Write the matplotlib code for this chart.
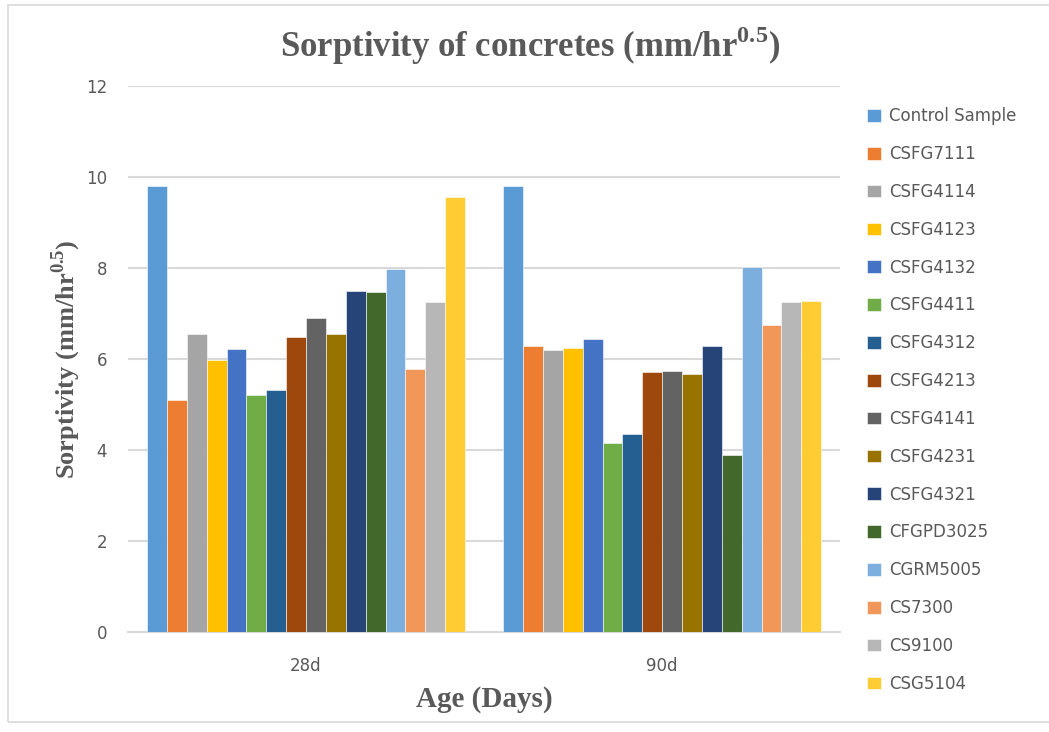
import numpy as np
import matplotlib.pyplot as plt
from matplotlib.patches import Rectangle

ages = ['28d', '90d']
samples = ['Control Sample', 'CSFG7111', 'CSFG4114', 'CSFG4123', 'CSFG4132',
           'CSFG4411', 'CSFG4312', 'CSFG4213', 'CSFG4141', 'CSFG4231',
           'CSFG4321', 'CFGPD3025', 'CGRM5005', 'CS7300', 'CS9100', 'CSG5104']
sorp_28d = [9.8, 5.1, 6.54, 5.98, 6.21, 5.21, 5.31, 6.49, 6.89, 6.55,
            7.5, 7.47, 7.97, 5.77, 7.25, 9.55]
sorp_90d = [9.8, 6.29, 6.19, 6.24, 6.44, 4.15, 4.35, 5.71, 5.73, 5.68,
            6.29, 3.88, 8.02, 6.74, 7.25, 7.27]
colors = ['#5B9BD5', '#ED7D31', '#A5A5A5', '#FFC000', '#4472C4', '#70AD47',
          '#255E91', '#9E480E', '#636363', '#997300', '#264478', '#43682B',
          '#7CAFDD', '#F1975A', '#B7B7B7', '#FFCD33']

serif = 'Liberation Serif'
plt.rcParams['mathtext.fontset'] = 'custom'
plt.rcParams['mathtext.rm'] = serif
plt.rcParams['mathtext.bf'] = serif + ':bold'

fig = plt.figure(figsize=(10.49, 7.32), dpi=100)
ax = fig.add_axes([0.122, 0.1366, 0.679, 0.746])

# outer chart frame
fig.patches.append(Rectangle((8 / 1049, 10 / 732), 1.1, 717 / 732,
                             transform=fig.transFigure, fill=False,
                             edgecolor='#d9d9d9', linewidth=1.2))

x = np.arange(len(ages))
n = len(samples)
group = 0.893
w = group / n
for i, name in enumerate(samples):
    vals = [sorp_28d[i], sorp_90d[i]]
    ax.bar(x - group / 2 + w * (i + 0.5), vals, width=w, color=colors[i],
           label=name, edgecolor='white', linewidth=0.4, zorder=3)

ax.set_xlim(-0.5, 1.5)
ax.set_ylim(0, 12)
ax.set_yticks(range(0, 13, 2))
ax.set_xticks(x)
ax.set_xticklabels(ages)
ax.yaxis.grid(True, color='#d9d9d9', linewidth=1.5, zorder=0)
for s in ['top', 'right', 'left']:
    ax.spines[s].set_visible(False)
ax.spines['bottom'].set_color('#d9d9d9')
ax.spines['bottom'].set_linewidth(1.5)
ax.tick_params(length=0, colors='#595959', labelsize=12)
ax.tick_params(axis='y', pad=15)
ax.tick_params(axis='x', pad=18)

fig.text(0.505, 0.938, r'Sorptivity of concretes (mm/hr$^{\mathbf{0.5}}$)',
         ha='center', va='center', fontsize=25, fontweight='bold',
         family=serif, color='#595959')
ax.set_xlabel('Age (Days)', fontsize=21, fontweight='bold', family=serif,
              color='#595959', labelpad=8)
ax.set_ylabel(r'Sorptivity (mm/hr$^{\mathbf{0.5}}$)', fontsize=19,
              fontweight='bold', family=serif, color='#595959', labelpad=2)

leg = fig.legend(loc='upper left', bbox_to_anchor=(0.8125, 0.874), frameon=False,
                 fontsize=12, labelcolor='#595959', handlelength=0.8,
                 handleheight=0.8, handletextpad=0.5, labelspacing=1.19)

fig.savefig('out.png', dpi=100)
